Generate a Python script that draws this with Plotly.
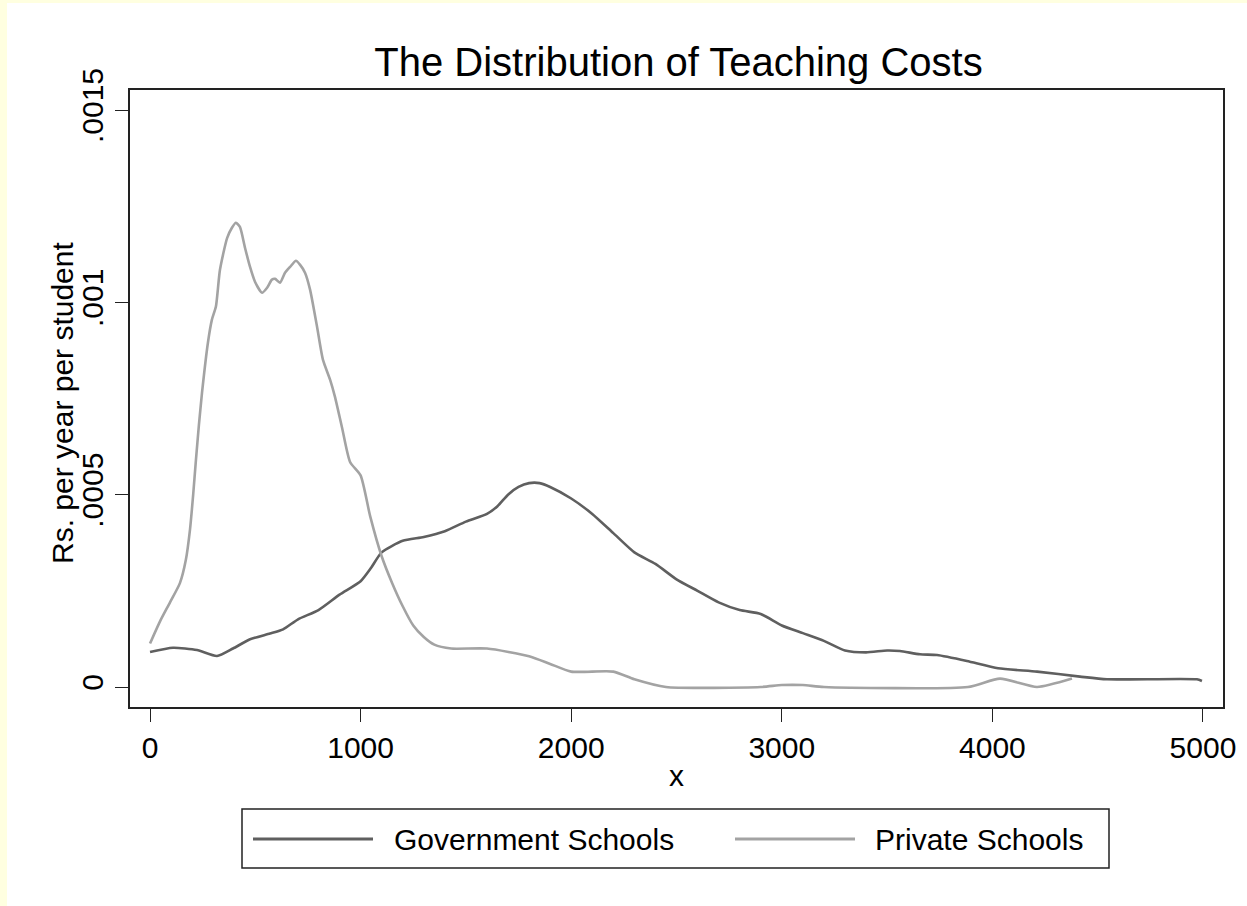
import plotly.graph_objects as go

# kernel density readings (x = Rs. per year per student, y = density)
gov_x = [0, 109, 223, 318, 394, 475, 570, 632, 703, 800, 900, 1000, 1050, 1100, 1200,
         1300, 1400, 1500, 1600, 1650, 1700, 1750, 1800, 1850, 1900, 2000, 2100, 2200,
         2300, 2400, 2500, 2600, 2700, 2800, 2900, 3000, 3100, 3200, 3300, 3400, 3500,
         3561, 3656, 3737, 3879, 4027, 4212, 4416, 4544, 4971, 4995]
gov_y = [0.0000909, 0.000102, 0.000096, 0.0000805, 0.0001, 0.000124, 0.000139, 0.00015,
         0.000176, 0.0002, 0.00024, 0.000275, 0.00031, 0.00035, 0.00038, 0.00039, 0.000405,
         0.00043, 0.00045, 0.00047, 0.0005, 0.00052, 0.00053, 0.00053, 0.00052, 0.00049,
         0.00045, 0.0004, 0.00035, 0.00032, 0.00028, 0.00025, 0.00022, 0.0002, 0.00019,
         0.00016, 0.00014, 0.00012, 0.000095, 0.00009, 0.000095, 0.0000935, 0.000085,
         0.000083, 0.0000675, 0.0000485, 0.00004, 0.000027, 0.00002, 0.00002, 0.0000156]

priv_x = [0, 47, 95, 142, 170, 190, 205, 218, 232, 247, 275, 294, 313, 332, 366, 389, 408,
          427, 451, 475, 499, 532, 556, 579, 594, 617, 641, 665, 693, 712, 736, 760, 793,
          821, 855, 878, 912, 950, 1000, 1045, 1100, 1150, 1200, 1250, 1300, 1350, 1430,
          1600, 1800, 1900, 2000, 2200, 2300, 2450, 2900, 3000, 3100, 3200, 3884, 4036,
          4212, 4378]
priv_y = [0.000113, 0.00017, 0.00022, 0.00027, 0.00033, 0.00041, 0.0005, 0.00059,
          0.00068, 0.000765, 0.000895, 0.000955, 0.000989, 0.001084, 0.001167, 0.001194,
          0.001207, 0.001196, 0.001142, 0.001092, 0.001053, 0.001025, 0.001038, 0.001059,
          0.001061, 0.001051, 0.001077, 0.001092, 0.001108, 0.001098, 0.001077, 0.001033,
          0.000937, 0.000851, 0.000799, 0.000755, 0.000674, 0.000585, 0.00055, 0.000445,
          0.00034, 0.00027, 0.00021, 0.00016, 0.00013, 0.00011, 0.0001, 0.0001, 0.00008,
          0.00006, 0.00004, 0.00004, 0.00002, 0.0, 0.0, 0.000005, 0.000005, 0.0, 0.0,
          0.0000218, 0.0, 0.0000218]

names = ['Government Schools', 'Private Schools']
colors = ['#5f5f5f', '#a3a3a3']

x_ticks = [0, 1000, 2000, 3000, 4000, 5000]
y_ticks = [0, 0.0005, 0.001, 0.0015]
y_ticktext = ['0', '.0005', '.001', '.0015']

font = 'Liberation Sans, Arial, sans-serif'

fig = go.Figure()
fig.add_trace(go.Scatter(x=gov_x, y=gov_y, mode='lines', name=names[0],
                         line=dict(color=colors[0], width=2.6, shape='spline', smoothing=0.6)))
fig.add_trace(go.Scatter(x=priv_x, y=priv_y, mode='lines', name=names[1],
                         line=dict(color=colors[1], width=2.6, shape='spline', smoothing=0.6)))

axis_common = dict(showgrid=False, zeroline=False, showline=True, linecolor='#222222',
                   linewidth=2, mirror=True, ticks='outside', ticklen=13, tickwidth=1.2,
                   tickcolor='#222222', tickfont=dict(size=30, color='black', family=font))

fig.update_xaxes(range=[-95, 5095], tickvals=x_ticks, **axis_common)
fig.update_yaxes(range=[-0.000052, 0.001552], tickvals=y_ticks, ticktext=y_ticktext,
                 tickangle=-90, **axis_common)

# page: light yellow edge with white sheet
fig.add_shape(type='rect', xref='paper', yref='paper', layer='below',
              x0=(7 - 130) / 1093, x1=(1250 - 130) / 1093,
              y0=(707 - 910) / 617, y1=(707 - 3) / 617,
              fillcolor='white', line=dict(width=0))

# legend box drawn by hand (Stata style, long line samples)
def px(x):
    return (x - 130) / 1093

def py(y):
    return (707 - y) / 617

fig.add_shape(type='rect', xref='paper', yref='paper', x0=px(242), x1=px(1109),
              y0=py(868), y1=py(809), line=dict(color='#222222', width=1.5), fillcolor='white')
leg = [(253, 373, 392), (735, 855, 873)]
for (a, b, t), nm, c in zip(leg, names, colors):
    fig.add_shape(type='line', xref='paper', yref='paper', x0=px(a), x1=px(b),
                  y0=py(839), y1=py(839), line=dict(color=c, width=3))
    fig.add_annotation(text=nm, xref='paper', yref='paper', x=px(t), y=py(839),
                       xanchor='left', yanchor='middle', showarrow=False,
                       font=dict(size=30, color='black', family=font))

fig.add_annotation(text='x', xref='paper', yref='paper', x=0.5, y=py(775),
                   xanchor='center', yanchor='middle', showarrow=False,
                   font=dict(size=30, color='black', family=font))
fig.add_annotation(text='Rs. per year per student', xref='paper', yref='paper',
                   x=px(62), y=py(403), textangle=-90, xanchor='center', yanchor='middle',
                   showarrow=False, font=dict(size=30, color='black', family=font))

fig.update_layout(
    width=1247, height=906,
    margin=dict(l=130, r=24, t=90, b=199),
    paper_bgcolor='#ffffe0', plot_bgcolor='white',
    showlegend=False,
    title=dict(text='The Distribution of Teaching Costs', x=(678.5) / 1247, xanchor='center',
               y=(906 - 62) / 906, yanchor='middle', yref='container',
               font=dict(size=40, color='black', family=font)),
)

fig.write_html('out.html', config={'displayModeBar': False},
               post_script="document.body.style.margin='0';")
